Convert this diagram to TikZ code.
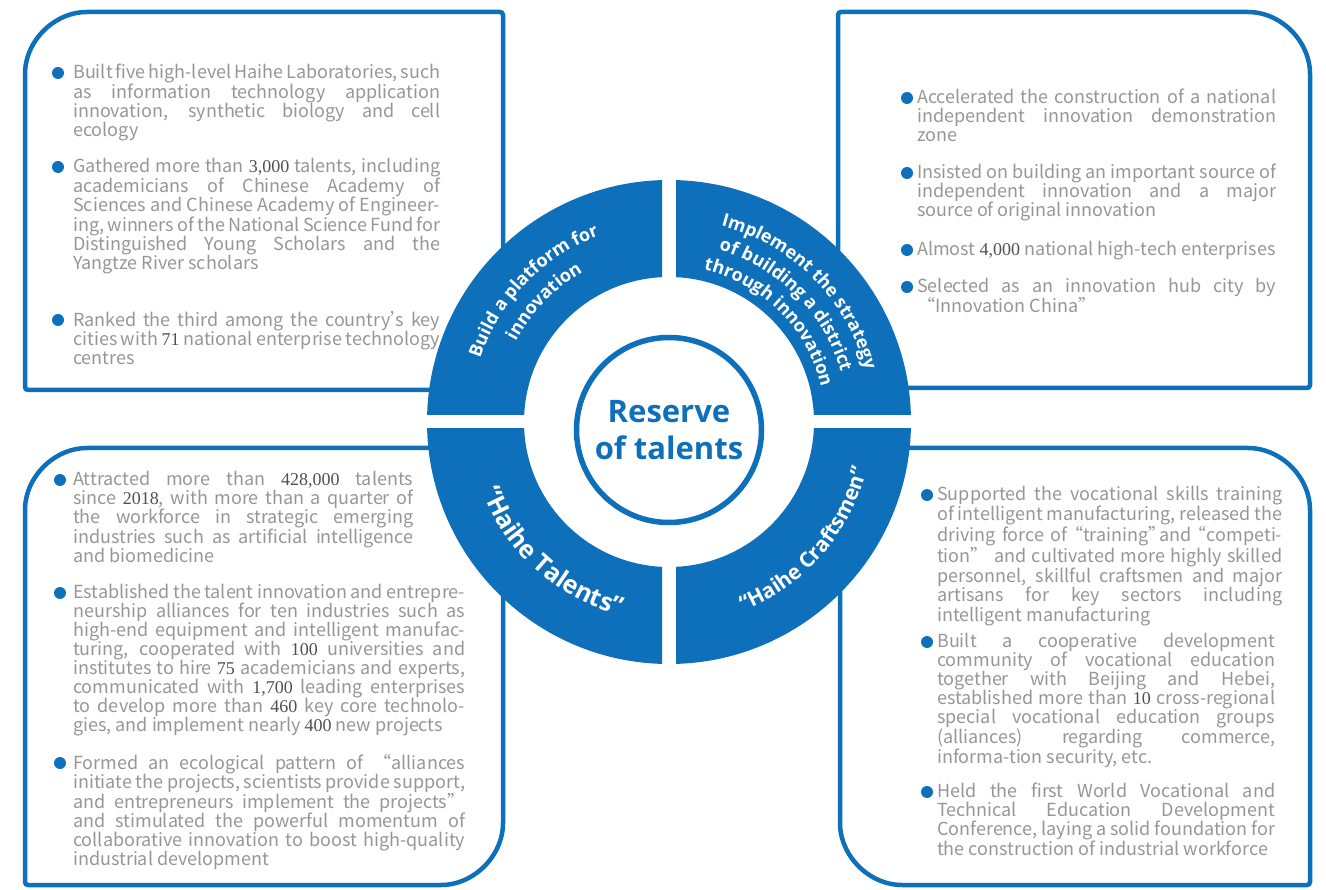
\documentclass[tikz,border=0pt]{standalone}
\usepackage{fontspec}
\setmainfont{Noto Sans CJK SC}
\newfontfamily\ringfont{Open Sans}
\newfontfamily\digfont{Liberation Serif}
\usetikzlibrary{calc,decorations.text}

\definecolor{hblue}{RGB}{14,111,186}
\definecolor{bodygray}{RGB}{150,150,150}
\definecolor{diggray}{RGB}{80,80,80}

\newcommand{\dig}[1]{{\digfont\color{diggray}#1}}
\newcommand{\apos}{\makebox[0.3em][l]{’}}
\newcommand{\oq}{\makebox[0.5em][r]{“}}
\newcommand{\cq}{\makebox[0.6em][l]{”}}
\newcommand{\secfont}{\ringfont\bfseries\fontsize{18}{18}\selectfont}
\newcommand{\talfont}{\ringfont\bfseries\fontsize{25}{25}\selectfont}
\newcommand{\crafont}{\ringfont\bfseries\fontsize{21}{21}\selectfont}

\tolerance=10000
\hyphenpenalty=10000
\lineskiplimit=-20pt

\tikzset{
  box/.style={draw=hblue, line width=4.5pt, rounded corners=3pt},
  para/.style={anchor=north west, inner sep=0pt, align=justify, text=bodygray,
    font=\fontsize{18}{19}\selectfont},
  arctext/.style={decorate, decoration={text along path, text align=center, text color=white}},
}

\begin{document}
\begin{tikzpicture}[x=1pt, y=1pt]
  \useasboundingbox (0,0) rectangle (1326,-890);

  % the four boxes
  \draw[box] (503,-390) -- (25,-390) -- (25,-77) arc[start angle=180, end angle=90, radius=65pt] -- (503,-12) -- cycle;
  \draw[box] (838,-388) -- (838,-12) -- (1245,-12) arc[start angle=90, end angle=0, radius=65pt] -- (1310,-388) -- cycle;
  \draw[box] (25,-885) -- (25,-513) arc[start angle=180, end angle=90, radius=65pt] -- (503,-448) -- (503,-820) arc[start angle=0, end angle=-90, radius=65pt] -- cycle;
  \draw[box] (1310,-885) -- (905,-885) arc[start angle=270, end angle=180, radius=65pt] -- (840,-448) -- (1245,-448) arc[start angle=90, end angle=0, radius=65pt] -- cycle;

  % ring of four sectors
  \coordinate (hub) at (669,-422);
  \foreach \sx/\sy in {1/1,-1/1,-1/-1,1/-1}{
    \begin{scope}
      \clip ($(hub)+(7*\sx,7*\sy)$) rectangle ($(hub)+(260*\sx,260*\sy)$);
      \fill[hblue, even odd rule] (hub) circle[radius=242pt] (hub) circle[radius=145pt];
    \end{scope}
  }
  \node[draw=hblue, line width=5.5pt, circle, minimum size=185pt, inner sep=0pt, align=center,
    text=hblue, font=\ringfont\bfseries\fontsize{31}{37}\selectfont] (core) at (669,-430) {Reserve\\of talents};

  % sector titles
  \path[arctext, decoration={text={|\secfont|Build a platform for}}]
    ($(hub)+(180:199pt)$) arc[start angle=180, end angle=92, radius=199pt];
  \path[arctext, decoration={text={|\secfont|innovation}}]
    ($(hub)+(180:173pt)$) arc[start angle=180, end angle=92, radius=173pt];
  \path[arctext, decoration={text={|\secfont|Implement the strategy}}]
    ($(hub)+(89:203pt)$) arc[start angle=89, end angle=1, radius=203pt];
  \path[arctext, decoration={text={|\secfont|of building a district}}]
    ($(hub)+(89:179pt)$) arc[start angle=89, end angle=1, radius=179pt];
  \path[arctext, decoration={text={|\secfont|through innovation}}]
    ($(hub)+(89:156pt)$) arc[start angle=89, end angle=1, radius=156pt];
  \path[arctext, decoration={text={|\talfont|“Haihe Talents”}}]
    ($(hub)+(184:199pt)$) arc[start angle=184, end angle=272, radius=199pt];
  \path[arctext, decoration={text={|\crafont|“Haihe Craftsmen”}}]
    ($(hub)+(275:203pt)$) arc[start angle=275, end angle=363, radius=203pt];

  % top left
  \node[para, text width=367pt] (tl1) at (73,-64) {Built five high-level Haihe Laboratories, such\linebreak as information technology application\linebreak innovation, synthetic biology and cell\linebreak ecology};
  \node[para, text width=367pt] (tl2) at (73,-158) {Gathered more than \dig{3,000} talents, including\linebreak academicians of Chinese Academy of\linebreak Sciences and Chinese Academy of Engineer-\linebreak ing, winners of the National Science Fund for\linebreak Distinguished Young Scholars and the\linebreak Yangtze River scholars};
  \node[para, text width=367pt] (tl3) at (73,-311) {Ranked the third among the country\apos s key\linebreak cities with \dig{71} national enterprise technology\linebreak centres};

  % top right
  \node[para, text width=359pt] (tr1) at (917,-89) {Accelerated the construction of a national\linebreak independent innovation demonstration\linebreak zone};
  \node[para, text width=359pt] (tr2) at (917,-164) {Insisted on building an important source of\linebreak independent innovation and a major\linebreak source of original innovation};
  \node[para, text width=359pt] (tr3) at (917,-241) {Almost \dig{4,000} national high-tech enterprises};
  \node[para, text width=359pt] (tr4) at (917,-278) {Selected as an innovation hub city by\linebreak “Innovation China”};

  % bottom left
  \node[para, text width=340pt] (bl1) at (73,-471) {Attracted more than \dig{428,000} talents\linebreak since \dig{2018}, with more than a quarter of\linebreak the workforce in strategic emerging\linebreak industries such as artificial intelligence\linebreak and biomedicine};
  \node[para, text width=392pt] (bl2) at (73,-584) {Established the talent innovation and entrepre-\linebreak neurship alliances for ten industries such as\linebreak high-end equipment and intelligent manufac-\linebreak turing, cooperated with \dig{100} universities and\linebreak institutes to hire \dig{75} academicians and experts,\linebreak communicated with \dig{1,700} leading enterprises\linebreak to develop more than \dig{460} key core technolo-\linebreak gies, and implement nearly \dig{400} new projects};
  \node[para, text width=392pt] (bl3) at (73,-754) {Formed an ecological pattern of “alliances\linebreak initiate the projects, scientists provide support,\linebreak and entrepreneurs implement the projects”\linebreak and stimulated the powerful momentum of\linebreak collaborative innovation to boost high-quality\linebreak industrial development};

  % bottom right
  \node[para, text width=345pt] (br1) at (937,-486) {\baselineskip=18pt\relax Supported the vocational skills training\linebreak of intelligent manufacturing, released the\linebreak driving force of \oq training\cq and \oq competi-\linebreak tion” and cultivated more highly skilled\linebreak personnel, skillful craftsmen and major\linebreak artisans for key sectors including\linebreak intelligent manufacturing};
  \node[para, text width=338pt] (br2) at (937,-633) {Built a cooperative development\linebreak community of vocational education\linebreak together with Beijing and Hebei,\linebreak established more than \dig{10} cross-regional\linebreak special vocational education groups\linebreak (alliances) regarding commerce,\linebreak informa-tion security, etc.};
  \node[para, text width=338pt] (br3) at (937,-783) {Held the first World Vocational and\linebreak Technical Education Development\linebreak Conference, laying a solid foundation for\linebreak the construction of industrial workforce};

  % bullets
  \foreach \p/\dx in {tl1/15,tl2/15,tl3/15,tr1/10,tr2/10,tr3/10,tr4/10,bl1/13,bl2/13,bl3/13,br1/10,br2/10,br3/10}
    \fill[hblue] ($(\p.north west)+(-\dx,-9)$) circle[radius=6pt];
\end{tikzpicture}
\end{document}
